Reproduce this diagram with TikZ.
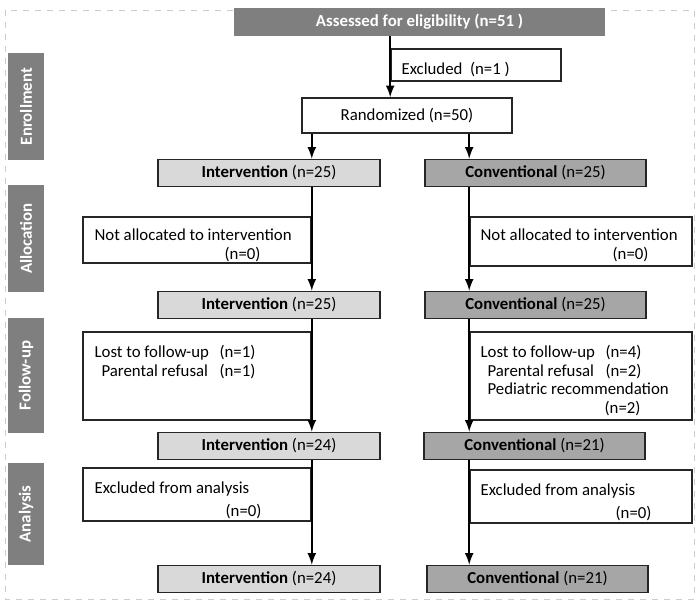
\documentclass[tikz,border=0pt]{standalone}
\usepackage{fontspec}
\setmainfont{Carlito}
\usetikzlibrary{arrows}
\definecolor{headgray}{RGB}{127,127,127}
\definecolor{convgray}{RGB}{166,166,166}
\definecolor{intgray}{RGB}{217,217,217}
\definecolor{framegray}{RGB}{205,205,205}

\begin{document}
\begin{tikzpicture}[x=0.5pt, y=-0.5pt,
        every node/.style={font=\fontsize{8.4}{9.4}\selectfont, inner sep=0pt},
        header/.style={fill=headgray, text=white, font=\fontsize{8.4}{9.4}\selectfont\bfseries},
        phase/.style={header, rotate=90, minimum height=18pt},
        armbox/.style={draw=black!85, line width=0.8pt, minimum height=13.5pt},
        intbox/.style={armbox, fill=intgray, minimum width=111pt},
        convbox/.style={armbox, fill=convgray, minimum width=110.5pt},
        whitebox/.style={draw=black!85, line width=0.8pt, fill=white},
        note/.style={anchor=north west, align=left},
        arr/.style={-latex, line width=1pt}]
    \useasboundingbox (0,0) rectangle (697,613);
    \draw[framegray, dashed, line width=0.4pt] (5,10) rectangle (694,599);

    \node[header, minimum width=185.5pt, minimum height=14pt]  (assess) at (419.5, 22.0) {Assessed for eligibility (n=51 )};
    \node[whitebox, minimum width=85pt,  minimum height=16pt]  (excl)   at (476.0, 65.0) {};
    \node[whitebox, minimum width=105pt, minimum height=17.5pt](rand)   at (407.0,115.5) {Randomized (n=50)};

    \node[phase, minimum width=53.5pt] (enrol) at (26.0,106.5) {Enrollment};
    \node[phase, minimum width=53.5pt] (alloc) at (26.0,238.5) {Allocation};
    \node[phase, minimum width=57.5pt] (follow)at (26.0,375.5) {Follow-up};
    \node[phase, minimum width=51pt]   (anal)  at (26.0,514.0) {Analysis};

    \node[intbox]  (int1)  at (269.0,173.0) {{\bfseries Intervention} (n=25)};
    \node[convbox] (conv1) at (535.5,173.0) {{\bfseries Conventional} (n=25)};
    \node[intbox]  (int2)  at (269.0,305.0) {{\bfseries Intervention} (n=25)};
    \node[convbox] (conv2) at (535.5,305.0) {{\bfseries Conventional} (n=25)};
    \node[intbox]  (int3)  at (269.0,446.0) {{\bfseries Intervention} (n=24)};
    \node[convbox] (conv3) at (534.5,446.0) {{\bfseries Conventional} (n=21)};
    \node[intbox]  (int4)  at (269.0,579.0) {{\bfseries Intervention} (n=24)};
    \node[convbox] (conv4) at (537.5,579.0) {{\bfseries Conventional} (n=21)};

    \node[whitebox, minimum width=114pt, minimum height=23pt]   (nalL)  at (197.0,240.0) {};
    \node[whitebox, minimum width=111pt, minimum height=24.5pt] (nalR)  at (581.0,241.5) {};
    \node[whitebox, minimum width=114pt, minimum height=44pt]   (lostL) at (197.0,376.0) {};
    \node[whitebox, minimum width=111pt, minimum height=44pt]   (lostR) at (581.0,376.0) {};
    \node[whitebox, minimum width=114pt, minimum height=26.5pt] (exaL)  at (197.0,494.5) {};
    \node[whitebox, minimum width=111pt, minimum height=26.5pt] (exaR)  at (581.0,496.5) {};

    \node[note] (exclt)  at ([xshift=5.5pt,yshift=-6.75pt]excl.north west)  {Excluded\ \ (n=1 )};
    \node[note] (nalLt)  at ([xshift=6pt,yshift=-6.25pt]nalL.north west)    {Not allocated to intervention\\\hspace*{65pt}(n=0)};
    \node[note] (nalRt)  at ([xshift=5.5pt,yshift=-6.25pt]nalR.north west)  {Not allocated to intervention\\\hspace*{66pt}(n=0)};
    \node[note] (lostLt) at ([xshift=6pt,yshift=-6.75pt]lostL.north west)   {\makebox[62.5pt][l]{Lost to follow-up}(n=1)\\
                                                                             \hspace*{3.5pt}\makebox[59pt][l]{Parental refusal}(n=1)};
    \node[note] (lostRt) at ([xshift=5.5pt,yshift=-6.75pt]lostR.north west) {\makebox[62.5pt][l]{Lost to follow-up}(n=4)\\
                                                                             \hspace*{3.5pt}\makebox[59pt][l]{Parental refusal}(n=2)\\
                                                                             \hspace*{3.5pt}Pediatric recommendation\\
                                                                             \hspace*{62pt}(n=2)};
    \node[note] (exaLt)  at ([xshift=6pt,yshift=-7.25pt]exaL.north west)    {Excluded from analysis\\[2pt]\hspace*{65.5pt}(n=0)};
    \node[note] (exaRt)  at ([xshift=5.5pt,yshift=-7.25pt]exaR.north west)  {Excluded from analysis\\[2pt]\hspace*{67.5pt}(n=0)};

    \draw[arr] (assess.south -| excl.west) -- (rand.north -| excl.west);
    \draw[arr] (rand.south -| nalL.east)   -- (int1.north -| nalL.east);
    \draw[arr] (rand.south -| nalR.west)   -- (conv1.north -| nalR.west);
    \draw[arr] (int1.south -| nalL.east)   -- (int2.north -| nalL.east);
    \draw[arr] (conv1.south -| nalR.west)  -- (conv2.north -| nalR.west);
    \draw[arr] (int2.south -| nalL.east)   -- (int3.north -| nalL.east);
    \draw[arr] (conv2.south -| nalR.west)  -- (conv3.north -| nalR.west);
    \draw[arr] (int3.south -| nalL.east)   -- (int4.north -| nalL.east);
    \draw[arr] (conv3.south -| nalR.west)  -- (conv4.north -| nalR.west);
\end{tikzpicture}
\end{document}
